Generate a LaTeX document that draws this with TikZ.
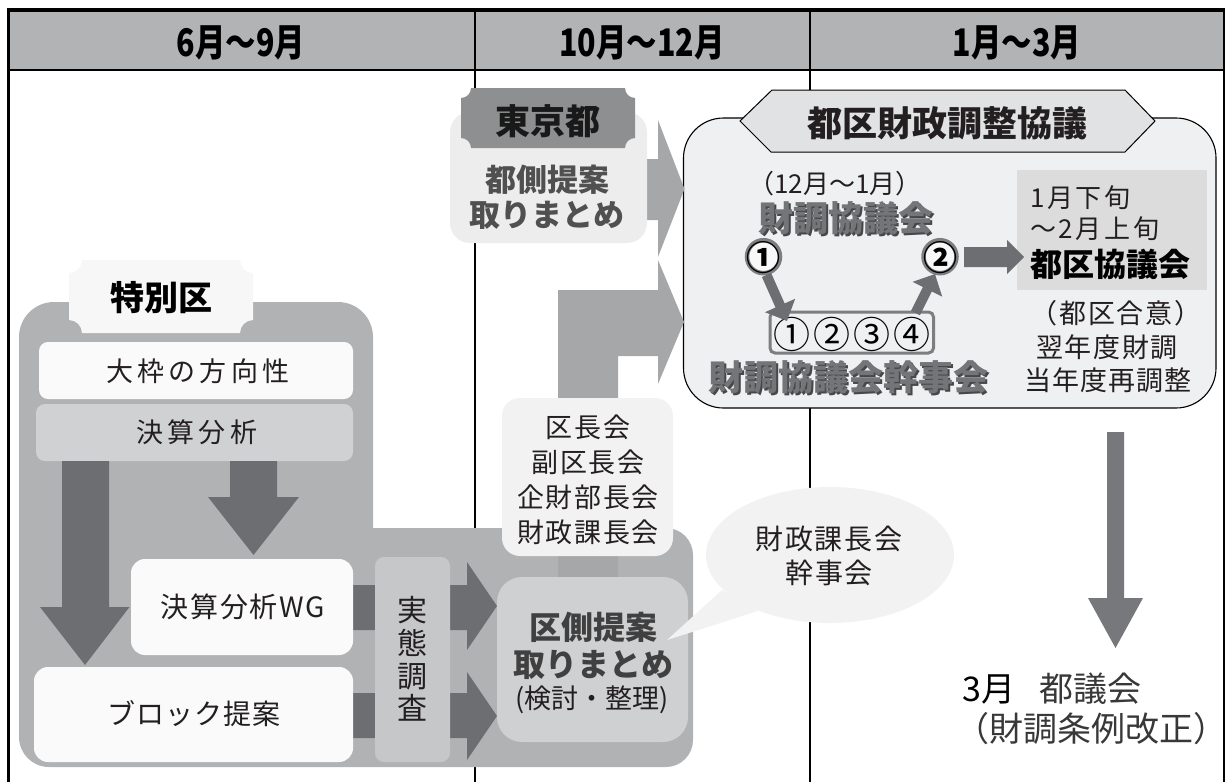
\documentclass[tikz,border=0pt]{standalone}
\usepackage{fontspec}
\setmainfont{Noto Sans CJK JP}
\newfontfamily\hdrfont[FakeStretch=0.8]{Noto Sans CJK JP}
\usetikzlibrary{arrows.meta}
\definecolor{hdrgray}{HTML}{B2B3B5}
\definecolor{reggray}{HTML}{B1B2B4}
\definecolor{darkarrow}{HTML}{6D6E71}
\definecolor{midarrow}{HTML}{A6A7A9}
\definecolor{boxwhite}{HTML}{FAFAFA}
\definecolor{lightbox}{HTML}{D0D1D3}
\definecolor{jittai}{HTML}{C6C7C9}
\definecolor{kugawa}{HTML}{CFD0D2}
\definecolor{bigbox}{HTML}{EFF0F1}
\definecolor{tabgray}{HTML}{E1E2E4}
\definecolor{tokyotag}{HTML}{8E8F91}
\definecolor{tokyobox}{HTML}{EDEDED}
\definecolor{bubblec}{HTML}{F2F2F2}
\definecolor{textgray}{HTML}{505050}
\definecolor{ringgray}{HTML}{7D7E80}
\definecolor{agreebox}{HTML}{DCDCDD}
\definecolor{downarrow}{HTML}{77787B}
\definecolor{shadowtxt}{HTML}{747578}
\definecolor{bodytxt}{HTML}{231F20}
\newcommand\fsz[2]{\fontsize{#1}{#2}\selectfont}
\newcommand\lsp[1]{\addfontfeature{LetterSpace=#1}}
% ticket shape with concave corners: x1 y1 x2 y2 r
\newcommand\tagpath[5]{({#1+#5},{#2}) -- ({#3-#5},{#2})
  .. controls ({#3-#5},{#2+0.55*#5}) and ({#3-0.55*#5},{#2+#5}) .. ({#3},{#2+#5})
  -- ({#3},{#4-#5})
  .. controls ({#3-0.55*#5},{#4-#5}) and ({#3-#5},{#4-0.55*#5}) .. ({#3-#5},{#4})
  -- ({#1+#5},{#4})
  .. controls ({#1+#5},{#4-0.55*#5}) and ({#1+0.55*#5},{#4-#5}) .. ({#1},{#4-#5})
  -- ({#1},{#2+#5})
  .. controls ({#1+0.55*#5},{#2+#5}) and ({#1+#5},{#2+0.55*#5}) .. cycle}
\begin{document}
\begin{tikzpicture}[x=1pt,y=-1pt,
  txt/.style={inner sep=0pt, align=center, text=bodytxt},
  hdr/.style={inner sep=0pt, font=\hdrfont\bfseries\fsz{38}{38}},
  shadowed/.style={inner sep=0pt, align=center, text=shadowtxt},
  shade/.style={inner sep=0pt, align=center, text=black, opacity=0.7},
]
\useasboundingbox (0,0) rectangle (1226,782);
% ---------- header and frame ----------
\fill[hdrgray] (8,10) rectangle (1224,70);
\draw[line width=1.2pt] (475,10) -- (475,782);
\draw[line width=1.2pt] (810,10) -- (810,782);
\draw[line width=1.5pt] (8,70) -- (1224,70);
\draw[line width=1.5pt] (1224,9) -- (1224,782);
\draw[line width=3pt] (8,9) -- (8,782);
\draw[line width=4pt] (6.5,10) -- (1225,10);
\node[hdr] (h1) at (241,43) {6月～9月};
\node[hdr] (h2) at (642,43) {10月～12月};
\node[hdr] (h3) at (1017,43) {1月～3月};

% ---------- big council box ----------
\draw[fill=bigbox, line width=1.1pt, rounded corners=40pt] (683.5,118) rectangle (1216,408);
\draw[fill=tabgray, line width=1pt] (740,121) -- (772,90) -- (1125,90) -- (1155,121) -- (1125,152) -- (771,152) -- cycle;
\node[txt, text=bodytxt, font=\bfseries\fsz{35}{35}] (toku) at (947,123) {都区財政調整協議};
\node[txt, font=\fsz{26}{26}] (kikan) at (835,184) {（12月～1月）};
\node[shade, font=\bfseries\fsz{35}{35}] (zaich1s) at (847.5,220.5) {財調協議会};
\node[shadowed, font=\bfseries\fsz{35}{35}] (zaich1) at (845.5,218.5) {財調協議会};
% member box
\draw[ringgray, line width=3pt, rounded corners=5pt] (770,312) rectangle (933.5,353);
\node[txt, text=black, font=\fsz{37}{37}] (nums) at (852,334) {①\hspace{3pt}②\hspace{3pt}③\hspace{3pt}④};
% rings
\draw[ringgray, line width=4.5pt, fill=white!55!bigbox] (763.5,256.7) circle[radius=16.5pt];
\draw[ringgray, line width=4.5pt, fill=white!55!bigbox] (940,256.7) circle[radius=16.5pt];
\node[txt, text=black, font=\bfseries\fsz{34}{34}] (r1) at (763.5,257.5) {①};
\node[txt, text=black, font=\bfseries\fsz{34}{34}] (r2) at (940,257.5) {②};
\draw[darkarrow, line width=10pt, -{Triangle[length=17pt,width=32pt]}] (766.5,275) -- (787,321);
\draw[darkarrow, line width=10pt, -{Triangle[length=17pt,width=32pt]}] (915.5,313) -- (935,274);
\node[shade, font=\bfseries\fsz{35}{35}] (kanjis) at (850,379.5) {財調協議会幹事会};
\node[shadowed, font=\bfseries\fsz{35}{35}] (kanji) at (848,377.5) {財調協議会幹事会};
% agreement box
\fill[agreebox] (1017,170) rectangle (1207,290);
\fill[darkarrow] (964,247) -- (1007,247) -- (1007,240) -- (1024,257) -- (1007,274) -- (1007,267) -- (964,267) -- cycle;
\node[txt, anchor=west, font=\fsz{26}{26}\lsp{10}] (late) at (1030,198) {1月下旬};
\node[txt, anchor=west, font=\fsz{26}{26}\lsp{10}] (early) at (1030,229) {～2月上旬};
\node[txt, text=black, font=\bfseries\fsz{32}{32}] (tokukyo) at (1110,264) {都区協議会};
\node[txt, font=\fsz{27}{27}\lsp{6}] (goi) at (1116,313) {（都区合意）};
\node[txt, font=\fsz{27}{27}\lsp{6}] (yokunen) at (1107,347) {翌年度財調};
\node[txt, font=\fsz{27}{27}\lsp{4}] (tounen) at (1108,380) {当年度再調整};

% ---------- special wards region ----------
\fill[reggray] (19,737) -- (19,337)
  .. controls (19,317.7) and (34.7,302) .. (54,302)
  -- (338,302)
  .. controls (357.3,302) and (373,317.7) .. (373,337)
  -- (373,528) -- (666,528)
  .. controls (680.9,528) and (693,540.1) .. (693,555)
  -- (693,740)
  .. controls (693,754.9) and (680.9,767) .. (666,767)
  -- (49,767)
  .. controls (32.4,767) and (19,753.6) .. (19,737) -- cycle;
\fill[bubblec!60!white] \tagpath{69}{260}{253}{333}{13};
\node[txt, text=black, font=\bfseries\fsz{34}{34}] (tokubetsu) at (161,298) {特別区};
\fill[boxwhite, rounded corners=9pt] (39,342) rectangle (353,399);
\node[txt, font=\fsz{27}{27}\lsp{15}] (owaku) at (198,371) {大枠の方向性};
\fill[lightbox, rounded corners=9pt] (36,404) rectangle (353,461);
\node[txt, font=\fsz{27}{27}\lsp{15}] (kessan) at (197,432) {決算分析};
% dark down arrows
\fill[darkarrow] (62,461) -- (109,461) -- (109,607) -- (129.5,607) -- (85,665) -- (40,607) -- (62,607) -- cycle;
\fill[darkarrow] (230,461) -- (277,461) -- (277,497) -- (299,497) -- (253.5,555) -- (208,497) -- (230,497) -- cycle;
% dark right arrows
\fill[darkarrow] (353,585) -- (467,585) -- (467,562) -- (497,606) -- (467,650) -- (467,630) -- (353,630) -- cycle;
\fill[darkarrow] (353,693) -- (467,693) -- (467,672) -- (497,716) -- (467,760) -- (467,738) -- (353,738) -- cycle;
\fill[boxwhite, rounded corners=14pt] (131,559) rectangle (353,655);
\node[txt, font=\fsz{28}{28}\lsp{6}] (wg) at (243,607) {決算分析WG};
\fill[boxwhite, rounded corners=14pt] (34,667) rectangle (353,762);
\node[txt, font=\fsz{28}{28}\lsp{4}] (block) at (194,714) {ブロック提案};
\fill[jittai, rounded corners=9pt] (375,557) rectangle (450,762);
\node[txt, font=\fsz{30}{32.7}] (jittaitxt) at (412,659) {実\\態\\調\\査};

% ---------- Tokyo arrows and box ----------
\fill[midarrow] (558,580) -- (558,290) -- (658,290) -- (658,260) -- (684,322) -- (658,384) -- (658,356) -- (618,356) -- (618,580) -- cycle;
\fill[midarrow] (633,159) -- (658,159) -- (658,120) -- (684.5,189) -- (658,257) -- (658,220) -- (633,220) -- cycle;
\fill[tokyobox, rounded corners=20pt] (450,112) rectangle (647,243);
\fill[tokyotag] \tagpath{461}{88}{635}{148}{10};
\node[txt, text=black!90, font=\bfseries\fsz{35}{35}] (tokyo) at (548,121) {東京都};
\node[txt, text=textgray, font=\bfseries\fsz{31}{35}] (tosoku) at (547,197) {都側提案\\取りまとめ};

% ---------- ward councils ----------
\fill[bubblec, rounded corners=18pt] (502,398) rectangle (673,556);
\node[txt, font=\fsz{27}{35}\lsp{6}] (kaigi) at (588,480) {区長会\\副区長会\\企財部長会\\財政課長会};
\fill[kugawa, rounded corners=25pt] (497,577) rectangle (688,742);
\node[txt, text=textgray!80!black, font=\bfseries\fsz{32}{32}] (kusoku1) at (593,627) {区側提案};
\node[txt, text=textgray!80!black, font=\bfseries\fsz{32}{32}] (kusoku2) at (593,665) {取りまとめ};
\node[txt, font=\fsz{27}{27}] (kento) at (592,700) {(検討・整理)};

% ---------- speech bubble ----------
\fill[bubblec] (830,555) ellipse[x radius=124pt, y radius=68pt];
\fill[bubblec] (722,590) -- (667,640) -- (758,611) -- cycle;
\node[txt, font=\fsz{28}{34}\lsp{6}] (kanjikai) at (829,556) {財政課長会\\幹事会};

% ---------- down arrow and assembly ----------
\fill[downarrow] (1107,432) -- (1124,432) -- (1124,598) -- (1143,598) -- (1115.5,648) -- (1088,598) -- (1107,598) -- cycle;
\node[txt, anchor=west, text=black, font=\fsz{34}{34}] (gikai) at (962,689) {3月\hspace{24pt}{\color{textgray!70!black}都議会}};
\node[txt, text=textgray!70!black, font=\fsz{34}{34}] (jorei) at (1091,729) {（財調条例改正）};
\end{tikzpicture}
\end{document}
